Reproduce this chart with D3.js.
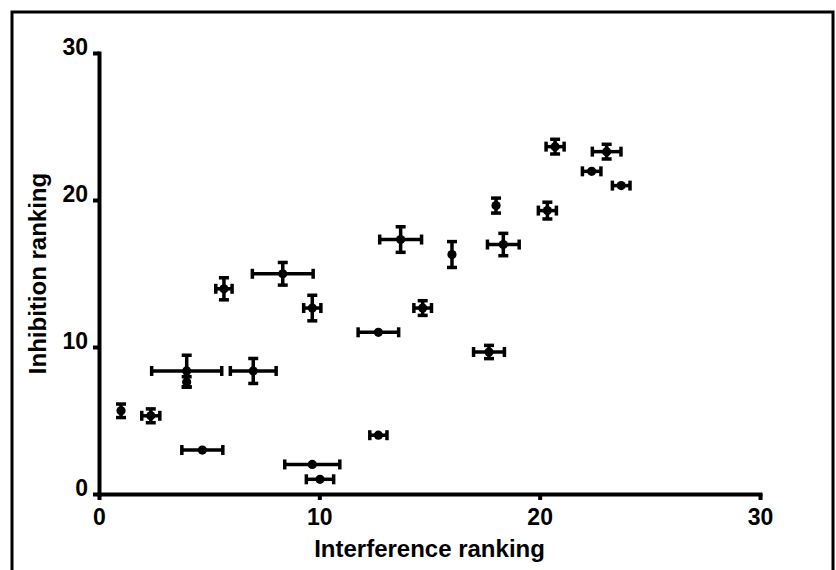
<!DOCTYPE html>
<html>
<head>
<meta charset="utf-8">
<script src="https://cdn.jsdelivr.net/npm/d3@7"></script>
<style>
  html, body { margin: 0; padding: 0; background: #fff; }
  svg { display: block; }
  text { font-family: "Liberation Sans", Arial, sans-serif; font-weight: bold; }
</style>
</head>
<body>
<div id="chart"></div>
<script>
// values (interference ranking vs inhibition ranking)
var interference = [1.0, 2.35, 3.98, 3.98, 7.0, 4.69, 5.67, 8.34, 9.68, 12.68, 14.69, 13.69,
                    16.02, 18.35, 18.02, 20.35, 20.70, 23.04, 22.36, 23.70, 17.70, 12.68, 9.68, 10.03];
var inhibition   = [5.66, 5.32, 8.37, 7.62, 8.37, 2.99, 13.96, 14.98, 12.65, 11.0, 12.65, 17.31,
                    16.29, 16.97, 19.62, 19.28, 23.63, 23.29, 21.95, 20.98, 9.66, 4.0, 2.01, 1.0];
var interferenceErr = [0, 0.41, 1.59, 0, 1.04, 0.93, 0.37, 1.38, 0.39, 0.92, 0.4, 0.95,
                       0, 0.72, 0, 0.41, 0.41, 0.65, 0.42, 0.4, 0.7, 0.39, 1.25, 0.62];
var inhibitionErr   = [0.46, 0.47, 1.07, 0.36, 0.85, 0, 0.75, 0.77, 0.87, 0, 0.5, 0.87,
                       0.88, 0.76, 0.51, 0.57, 0.5, 0.5, 0, 0, 0.45, 0, 0, 0];
var xTicks = [0, 10, 20, 30],
    yTicks = [0, 10, 20, 30];

var width  = 836,
    height = 570,
    capHalf = 5,
    svg = d3.select('#chart').append('svg')
        .attr('width', width)
        .attr('height', height);

var x = d3.scaleLinear().domain([0, 30]).range([99, 760]),
    y = d3.scaleLinear().domain([0, 30]).range([494, 53]);

// outer frame (bottom edge runs off the picture)
svg.append('rect')
    .attr('x', 12).attr('y', 12)
    .attr('width', 821).attr('height', 570)
    .style('fill', 'none')
    .style('stroke', '#000')
    .style('stroke-width', 3);

var xAxis = svg.append('g')
    .attr('transform', 'translate(0,' + y(0) + ')')
    .call(d3.axisBottom(x).tickValues(xTicks).tickSize(6).tickSizeOuter(0).tickPadding(9));

var yAxis = svg.append('g')
    .attr('transform', 'translate(' + x(0) + ',0)')
    .call(d3.axisLeft(y).tickValues(yTicks).tickSize(6).tickSizeOuter(0).tickPadding(5));

[xAxis, yAxis].forEach(function(a) {
    a.select('.domain')
        .style('stroke', '#000')
        .style('stroke-width', 4)
        .style('stroke-linecap', 'square');
    a.selectAll('.tick line')
        .style('stroke', '#000')
        .style('stroke-width', 4);
    a.selectAll('.tick text')
        .style('font-size', '23px')
        .style('font-family', '"Liberation Sans", Arial, sans-serif')
        .style('font-weight', 'bold')
        .style('fill', '#000');
});
yAxis.selectAll('.tick text').attr('dy', '0.05em');

svg.append('text')
    .attr('x', (x(0) + x(30)) / 2)
    .attr('y', 557)
    .attr('text-anchor', 'middle')
    .style('font-size', '24px')
    .text('Interference ranking');

svg.append('text')
    .attr('transform', 'translate(46,' + (y(0) + y(30)) / 2 + ') rotate(-90)')
    .attr('text-anchor', 'middle')
    .style('font-size', '24px')
    .text('Inhibition ranking');

var data = interference.map(function(d, i) {
    return { x: d, y: inhibition[i], xe: interferenceErr[i], ye: inhibitionErr[i] };
});

var pts = svg.append('g').selectAll('g')
    .data(data)
    .enter()
    .append('g');

pts.each(function(d) {
    var g = d3.select(this),
        cx = x(d.x),
        cy = y(d.y),
        segs = [];
    if (d.xe) {
        var x0 = x(d.x - d.xe), x1 = x(d.x + d.xe);
        segs.push([x0, cy, x1, cy], [x0, cy - capHalf, x0, cy + capHalf], [x1, cy - capHalf, x1, cy + capHalf]);
    }
    if (d.ye) {
        var y0 = y(d.y - d.ye), y1 = y(d.y + d.ye);
        segs.push([cx, y0, cx, y1], [cx - capHalf, y0, cx + capHalf, y0], [cx - capHalf, y1, cx + capHalf, y1]);
    }
    g.selectAll('line')
        .data(segs)
        .enter()
        .append('line')
        .attr('x1', function(s) { return s[0]; })
        .attr('y1', function(s) { return s[1]; })
        .attr('x2', function(s) { return s[2]; })
        .attr('y2', function(s) { return s[3]; })
        .style('stroke', '#000')
        .style('stroke-width', 3.5);
    g.append('circle')
        .attr('cx', cx)
        .attr('cy', cy)
        .attr('r', 4.6)
        .style('fill', '#000');
});
</script>
</body>
</html>
